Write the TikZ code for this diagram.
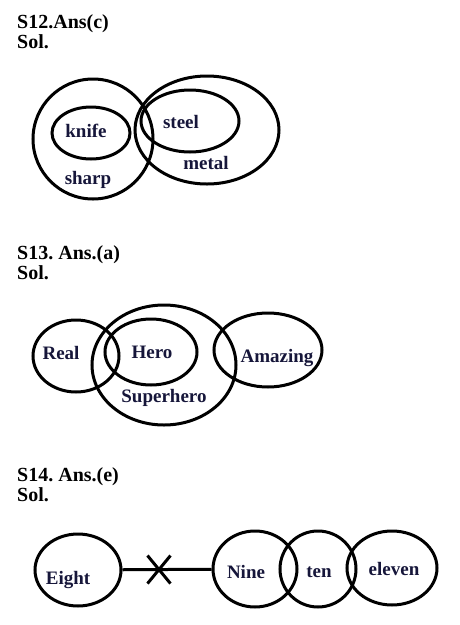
\documentclass[tikz,border=0pt]{standalone}
\usepackage{fontspec}
\setmainfont{Liberation Serif}
\usetikzlibrary{shapes.geometric,shapes.misc}
\definecolor{labelcol}{RGB}{22,22,58}
\frenchspacing
\begin{document}
\begin{tikzpicture}[x=1pt, y=-1pt,
    set/.style={ellipse, draw, line width=3pt, inner sep=0pt},
    word/.style={anchor=base, inner sep=0pt, text=labelcol, font=\fontsize{19}{21}\selectfont\bfseries},
    head/.style={anchor=base west, inner sep=0pt, font=\fontsize{20}{22}\selectfont\bfseries}]
        \useasboundingbox (0, 0) rectangle (460, 625);

        % S12
        \node (h12) at (17, 28) [head] {S12.Ans(c)};
        \node (s12) at (17, 48) [head] {Sol.};

        \node (sharp) at (93, 139) [set, minimum width=120, minimum height=120] {};
        \node (knife) at (91, 133) [set, minimum width=78, minimum height=52] {};
        \node (metal) at (207, 130) [set, minimum width=144, minimum height=108] {};
        \node (steel) at (190, 121) [set, minimum width=98, minimum height=62] {};

        \node (t-knife) at (86, 137) [word] {knife};
        \node (t-steel) at (181, 128) [word] {steel};
        \node (t-metal) at (206, 169) [word] {metal};
        \node (t-sharp) at (88, 184) [word] {sharp};

        % S13
        \node (h13) at (17, 259.5) [head] {S13. Ans.(a)};
        \node (s13) at (17, 279) [head] {Sol.};

        \node (real) at (76, 356) [set, minimum width=86, minimum height=72] {};
        \node (superhero) at (164, 365) [set, minimum width=144, minimum height=120] {};
        \node (hero) at (151, 352) [set, minimum width=92, minimum height=66] {};
        \node (amazing) at (268, 350) [set, minimum width=108, minimum height=74] {};

        \node (t-real) at (61, 359) [word] {Real};
        \node (t-hero) at (152, 358) [word] {Hero};
        \node (t-amazing) at (277, 362) [word] {Amazing};
        \node (t-superhero) at (164, 402) [word] {Superhero};

        % S14
        \node (h14) at (17, 481) [head] {S14. Ans.(e)};
        \node (s14) at (17, 501) [head] {Sol.};

        \node (eight) at (78, 570) [set, minimum width=86, minimum height=72] {};
        \node (nine) at (255, 569) [set, minimum width=84, minimum height=76] {};
        \node (ten) at (318, 569) [set, minimum width=76, minimum height=76] {};
        \node (eleven) at (392, 568) [set, minimum width=90, minimum height=74] {};

        \node (t-eight) at (68, 584) [word] {Eight};
        \node (t-nine) at (246, 578) [word] {Nine};
        \node (t-ten) at (319, 577) [word] {ten};
        \node (t-eleven) at (394, 575) [word] {eleven};

        \draw[line width=3pt] (eight) -- node (cut) [cross out, draw, line width=3pt,
            minimum width=20, minimum height=25, inner sep=0pt, pos=0.41] {} (nine);

    \end{tikzpicture}
\end{document}
